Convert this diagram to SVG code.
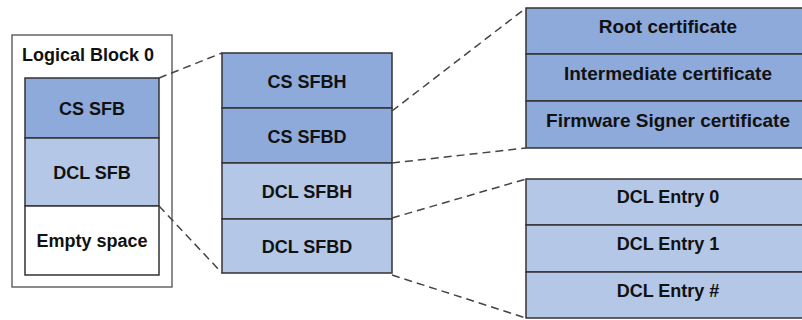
<svg xmlns="http://www.w3.org/2000/svg" width="802" height="320" viewBox="0 0 802 320">
<style>
text{font-family:"Liberation Sans",Arial,sans-serif;font-weight:bold;font-size:18px;fill:#111;text-anchor:middle}
text.cert{font-size:19px}
.d{fill:#8eaadb;stroke:#333;stroke-width:1.5}
.l{fill:#b4c7e7;stroke:#333;stroke-width:1.5}
.w{fill:#fff;stroke:#333;stroke-width:1.5}
.o{fill:#fff;stroke:#666;stroke-width:1.5}
.c line{stroke:#444;stroke-width:1.5;stroke-dasharray:8 5}
</style>
<rect width="802" height="320" fill="#fff"/>
<g id="logical-block-0">
<rect class="o" x="12" y="35" width="160" height="252"/>
<text x="88" y="61">Logical Block 0</text>
</g>
<g id="cs-sfb"><rect class="d" x="25" y="78" width="134" height="60"/><text x="92" y="114.5">CS SFB</text></g>
<g id="dcl-sfb"><rect class="l" x="25" y="138" width="134" height="68"/><text x="92" y="178.5">DCL SFB</text></g>
<g id="empty-space"><rect class="w" x="25" y="206" width="134" height="69"/><text x="92" y="247">Empty space</text></g>
<g id="cs-sfbh"><rect class="d" x="222" y="53" width="170" height="55"/><text x="307" y="87.5">CS SFBH</text></g>
<g id="cs-sfbd"><rect class="d" x="222" y="108" width="170" height="55"/><text x="307" y="142.5">CS SFBD</text></g>
<g id="dcl-sfbh"><rect class="l" x="222" y="163" width="170" height="56"/><text x="307" y="197.5">DCL SFBH</text></g>
<g id="dcl-sfbd"><rect class="l" x="222" y="219" width="170" height="54"/><text x="307" y="252.5">DCL SFBD</text></g>
<g id="root-cert"><rect class="d" x="526" y="8" width="278" height="46"/><text class="cert" x="668" y="33">Root certificate</text></g>
<g id="intermediate-cert"><rect class="d" x="526" y="54" width="278" height="47"/><text class="cert" x="668" y="80">Intermediate certificate</text></g>
<g id="fw-signer-cert"><rect class="d" x="526" y="101" width="278" height="47"/><text class="cert" x="668" y="127">Firmware Signer certificate</text></g>
<g id="dcl-entry-0"><rect class="l" x="526" y="179" width="278" height="46"/><text x="668" y="203">DCL Entry 0</text></g>
<g id="dcl-entry-1"><rect class="l" x="526" y="225" width="278" height="47"/><text x="668" y="250">DCL Entry 1</text></g>
<g id="dcl-entry-n"><rect class="l" x="526" y="272" width="278" height="46"/><text x="668" y="297">DCL Entry #</text></g>
<g id="connectors" class="c">
<line x1="159" y1="78" x2="222" y2="53"/>
<line x1="159" y1="206" x2="222" y2="273"/>
<line x1="392" y1="111" x2="526" y2="8"/>
<line x1="392" y1="163" x2="526" y2="148"/>
<line x1="392" y1="218" x2="526" y2="179"/>
<line x1="392" y1="275" x2="526" y2="318"/>
</g>
</svg>
